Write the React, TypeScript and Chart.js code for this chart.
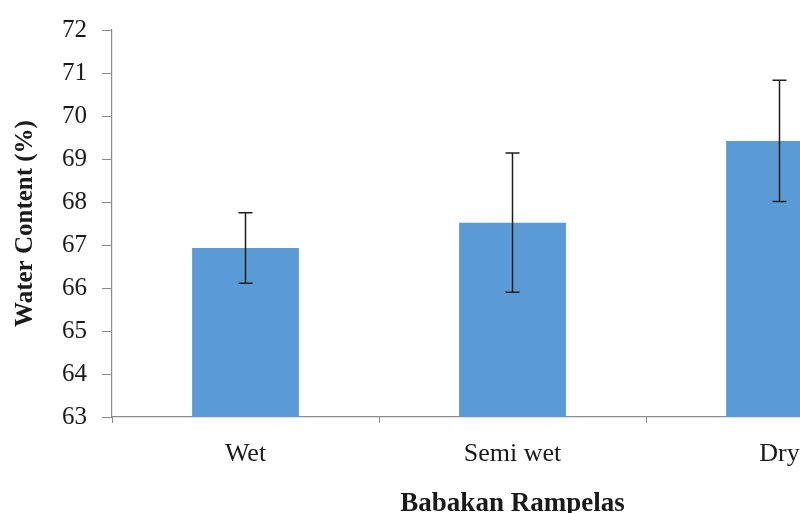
import React, { useEffect, useRef } from "react";
import { Chart, registerables } from "chart.js";

Chart.register(...registerables);

const categories: string[] = ["Wet", "Semi wet", "Dry"];
const waterContent: number[] = [66.93, 67.52, 69.42];
const errorPlusMinus: number[] = [0.82, 1.62, 1.41];
const yMin = 63;
const yMax = 72;
const yStep = 1;
const yTitle = "Water Content (%)";
const xTitle = "Babakan Rampelas";

const AXIS_COLOR = "#8c8c8c";
const FONT = "'Liberation Serif', 'Times New Roman', serif";

const errorBarPlugin = {
  id: "errorBars",
  afterDatasetsDraw(chart: any) {
    const ctx = chart.ctx;
    const meta = chart.getDatasetMeta(0);
    const yScale = chart.scales.y;
    ctx.save();
    ctx.strokeStyle = "#1f1f1f";
    ctx.lineWidth = 1.5;
    meta.data.forEach((bar: any, i: number) => {
      const v = waterContent[i];
      const e = errorPlusMinus[i];
      const x = bar.x;
      const yTop = yScale.getPixelForValue(v + e);
      const yBot = yScale.getPixelForValue(v - e);
      const cap = 7;
      ctx.beginPath();
      ctx.moveTo(x, yTop);
      ctx.lineTo(x, yBot);
      ctx.moveTo(x - cap, yTop);
      ctx.lineTo(x + cap, yTop);
      ctx.moveTo(x - cap, yBot);
      ctx.lineTo(x + cap, yBot);
      ctx.stroke();
    });
    ctx.restore();
  },
};

export default function App() {
  const ref = useRef<HTMLCanvasElement | null>(null);

  useEffect(() => {
    if (!ref.current) return;
    const chart = new Chart(ref.current, {
      type: "bar",
      data: {
        labels: categories,
        datasets: [
          {
            data: waterContent,
            backgroundColor: "#5b9bd5",
            borderWidth: 0,
            categoryPercentage: 1,
            barPercentage: 0.4,
          },
        ],
      },
      options: {
        responsive: false,
        animation: false,
        layout: { padding: { top: 27, right: 27, bottom: 0, left: 0 } },
        plugins: {
          legend: { display: false },
          tooltip: { enabled: false },
        },
        scales: {
          x: {
            grid: {
              display: true,
              drawOnChartArea: false,
              drawTicks: true,
              tickLength: 6,
              color: AXIS_COLOR,
              offset: true,
            },
            border: { display: true, color: AXIS_COLOR, width: 1.2 },
            ticks: {
              color: "#1a1a1a",
              font: { family: FONT, size: 26 },
              padding: 16,
            },
            title: {
              display: true,
              text: xTitle,
              color: "#1a1a1a",
              font: { family: FONT, size: 27, weight: "bold", lineHeight: 0.7 },
              padding: { top: 0, bottom: 0 },
            },
            afterFit: (scale: any) => {
              scale.height = 96;
            },
          },
          y: {
            min: yMin,
            max: yMax,
            grid: {
              display: true,
              drawOnChartArea: false,
              drawTicks: true,
              tickLength: 10,
              color: AXIS_COLOR,
            },
            border: { display: true, color: AXIS_COLOR, width: 1.2 },
            ticks: {
              stepSize: yStep,
              color: "#1a1a1a",
              font: { family: FONT, size: 25 },
              padding: 15,
            },
            title: {
              display: true,
              text: yTitle,
              color: "#1a1a1a",
              font: { family: FONT, size: 25, weight: "bold" },
              padding: { top: 11, bottom: 0 },
            },
            afterFit: (scale: any) => {
              scale.width = 112;
            },
          },
        },
      },
      plugins: [errorBarPlugin],
    });
    return () => chart.destroy();
  }, []);

  return (
    <div
      style={{
        position: "fixed",
        left: 0,
        top: 0,
        width: 800,
        height: 513,
        overflow: "hidden",
        background: "#ffffff",
      }}
    >
      <canvas ref={ref} width={940} height={513} style={{ display: "block" }} />
    </div>
  );
}
